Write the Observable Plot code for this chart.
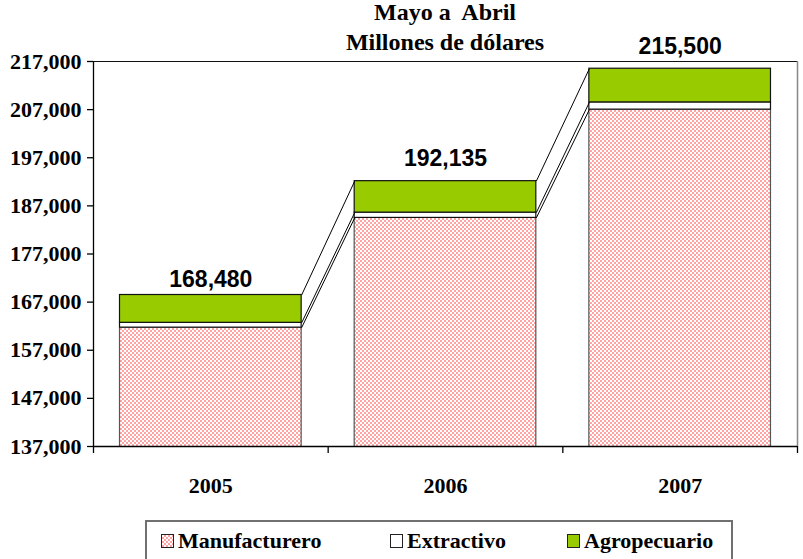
<!DOCTYPE html>
<html>
<head>
<meta charset="utf-8">
<script src="https://cdn.jsdelivr.net/npm/d3@7"></script>
<script src="https://cdn.jsdelivr.net/npm/@observablehq/plot@0.6"></script>
<style>
  html, body { margin: 0; padding: 0; background: #fff; }
  #wrap { position: relative; width: 803px; height: 559px; overflow: hidden; font-family: "Liberation Serif", "Times New Roman", serif; }
  #title { position: absolute; left: 93px; width: 704px; top: -3px; text-align: center; font-weight: bold; font-size: 24px; line-height: 30px; color: #000; z-index: 2; }
  #chart { position: absolute; left: 0; top: 0; }
  #legend { position: absolute; left: 145px; top: 520px; width: 588px; height: 60px; border: 2px solid #707070; box-sizing: border-box; }
  .item { position: absolute; top: 6px; font-weight: bold; font-size: 22px; line-height: 26px; white-space: nowrap; }
  .sw { display: inline-block; width: 11px; height: 12px; border: 1px solid #222; vertical-align: 0; margin-right: 4px; box-sizing: content-box; }
</style>
</head>
<body>
<div id="wrap">
  <div id="chart"></div>
  <div id="title">Mayo a&nbsp; Abril<br>Millones de dólares</div>
  <div id="legend"></div>
</div>
<script>
// ---- data ----
const years = ["2005", "2006", "2007"];
const manufacturero = [161700, 184500, 207000];
const extractivo = [1000, 1100, 1500];
const agropecuario = [5780, 6535, 7000];
const totals = [168480, 192135, 215500];
const yTicks = [137000, 147000, 157000, 167000, 177000, 187000, 197000, 207000, 217000];
const seriesNames = ["Manufacturero", "Extractivo", "Agropecuario"];
const seriesColors = ["url(#pinkcheck)", "#ffffff", "#99cc00"];

// ---- derived tables ----
const pad = 0.113;
const segs = [];
const tops = [[], [], []];
years.forEach((yr, i) => {
  const vals = [manufacturero[i], extractivo[i], agropecuario[i]];
  let base = 0;
  vals.forEach((v, s) => {
    segs.push({ i, s, y1: base, y2: base + v });
    base += v;
    tops[s].push(base);
  });
});
const links = [];
tops.forEach((t) => {
  for (let i = 0; i < t.length - 1; i++) {
    links.push({ x1: i + 1 - pad, x2: i + 1 + pad, y1: t[i], y2: t[i + 1] });
  }
});
const labelRows = totals.map((v, i) => ({ i, v }));

const serif = "'Liberation Serif', 'Times New Roman', serif";
const sans = "'Liberation Sans', Arial, sans-serif";
const labelOpts = { x: d => d.i + 0.5, y: "v", lineAnchor: "bottom", text: d => d3.format(",")(d.v), fontSize: 23, fontWeight: "bold", fontFamily: sans, fill: "#000" };

const svg = Plot.plot({
  width: 803,
  height: 520,
  marginTop: 61,
  marginBottom: 74,
  marginLeft: 93,
  marginRight: 6,
  x: { domain: [0, 3], axis: null },
  y: { domain: [137000, 217000], axis: null },
  style: { fontFamily: serif, fontWeight: "bold", color: "#000", background: "transparent" },
  marks: [
    Plot.rect(segs.filter(d => d.s === 0), { x1: d => d.i + pad, x2: d => d.i + 1 - pad, y1: "y1", y2: "y2", fill: seriesColors[0], stroke: "#555", strokeWidth: 1.2, clip: true }),
    Plot.rect(segs.filter(d => d.s === 1), { x1: d => d.i + pad, x2: d => d.i + 1 - pad, y1: "y1", y2: "y2", fill: seriesColors[1], stroke: "#111", strokeWidth: 1.2, clip: true }),
    Plot.rect(segs.filter(d => d.s === 2), { x1: d => d.i + pad, x2: d => d.i + 1 - pad, y1: "y1", y2: "y2", fill: seriesColors[2], stroke: "#111", strokeWidth: 1.2, clip: true }),
    Plot.link(links, { x1: "x1", x2: "x2", y1: "y1", y2: "y2", stroke: "#000", strokeWidth: 1 }),
    Plot.ruleY([217000], { stroke: "#111", strokeWidth: 1.2 }),
    Plot.ruleX([3], { stroke: "#888", strokeWidth: 1.5 }),
    Plot.ruleX([0], { stroke: "#000", strokeWidth: 1.3 }),
    Plot.ruleY([137000], { stroke: "#000", strokeWidth: 1.3 }),
    Plot.axisY({ ticks: yTicks, tickFormat: d3.format(","), tickSize: 6, tickPadding: 6, fontSize: 22, fontWeight: "bold", fontFamily: serif, strokeWidth: 1.3 }),
    Plot.axisX({ ticks: [0, 1, 2, 3], tickFormat: () => "", tickSize: 7, strokeWidth: 1.3 }),
    Plot.text(years, { x: (d, i) => i + 0.5, frameAnchor: "bottom", dy: 46, lineAnchor: "bottom", text: d => d, fontSize: 22, fontWeight: "bold", fontFamily: serif }),
    Plot.text(labelRows.filter(d => d.i === 0), { ...labelOpts, dy: -8 }),
    Plot.text(labelRows.filter(d => d.i > 0), { ...labelOpts, dy: -15 })
  ]
});

// checkered pink pattern
const defs = d3.select(svg).insert("defs", ":first-child");
const pat = defs.append("pattern").attr("id", "pinkcheck").attr("patternUnits", "userSpaceOnUse").attr("width", 4).attr("height", 4);
pat.append("rect").attr("width", 4).attr("height", 4).attr("fill", "#ffffff");
pat.append("rect").attr("x", 0).attr("y", 0).attr("width", 2).attr("height", 2).attr("fill", "#ffa3a3");
pat.append("rect").attr("x", 2).attr("y", 2).attr("width", 2).attr("height", 2).attr("fill", "#ffa3a3");
document.getElementById("chart").appendChild(svg);

// legend
const legendX = [14, 243, 420];
const legend = document.getElementById("legend");
seriesNames.forEach((name, k) => {
  const item = document.createElement("div");
  item.className = "item";
  item.style.left = legendX[k] + "px";
  const sw = document.createElement("span");
  sw.className = "sw";
  if (k === 0) {
    sw.style.background = "repeating-conic-gradient(#ffa3a3 0% 25%, #ffffff 0% 50%) 0 0 / 4px 4px";
  } else {
    sw.style.background = seriesColors[k];
  }
  item.appendChild(sw);
  item.appendChild(document.createTextNode(name));
  legend.appendChild(item);
});
</script>
</body>
</html>
